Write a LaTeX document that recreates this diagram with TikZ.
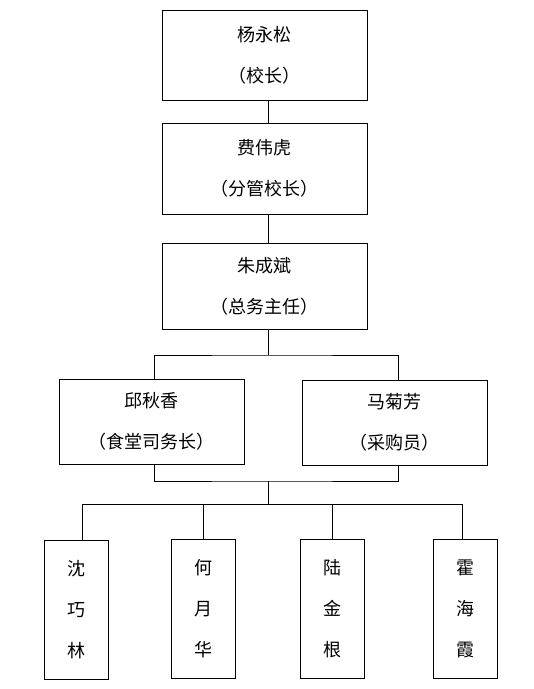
\documentclass[tikz,border=0pt]{standalone}
\usepackage{fontspec}
\newfontfamily\cjk{Noto Sans CJK SC}
\usetikzlibrary{calc,positioning}
\tikzset{
  pbox/.style={draw,line width=0.8pt,inner sep=0pt,align=center,font=\cjk\fontsize{18}{41}\selectfont,minimum width=#1},
  tall/.style={pbox=64pt,minimum height=139pt},
  link/.style={line width=0.8pt},
}
\begin{document}
\begin{tikzpicture}[x=1pt,y=-1pt]
\useasboundingbox[fill=white] (0,0) rectangle (534,689);
\node[pbox=205pt,minimum height=90pt] (yang) at (264.5,55)  {杨永松\\（校长）};
\node[pbox=205pt,minimum height=91pt] (fei)  at (264.5,168.5) {费伟虎\\（分管校长）};
\node[pbox=205pt,minimum height=86pt] (zhu)  at (264.5,286) {朱成斌\\（总务主任）};
\node[pbox=185pt,minimum height=85pt] (qiu)  at (151.5,421.5) {邱秋香\\（食堂司务长）};
\node[pbox=185pt,minimum height=85pt] (ma)   at (394.5,422.5) {马菊芳\\（采购员）};
\node[tall] (shen) at (76,609.5)  {沈\\巧\\林};
\node[tall] (he)   at (203.5,608.5) {何\\月\\华};
\node[tall] (lu)   at (332,608.5) {陆\\金\\根};
\node[tall] (huo)  at (465,608.5) {霍\\海\\霞};
% trunk
\draw[link] ([xshift=3.5pt]yang.south) -- ([xshift=3.5pt]fei.north);
\draw[link] ([xshift=3.5pt]fei.south) -- ([xshift=3.5pt]zhu.north);
\coordinate (up) at (268,355);
\coordinate (low) at (268,481);
\coordinate (bar) at (268,504);
\draw[link] ([xshift=3.5pt]zhu.south) -- (up);
\draw[link] ([xshift=2.5pt]qiu.north) |- (up) -| ([xshift=3.5pt]ma.north);
\draw[link] ([xshift=2.5pt]qiu.south) |- (low) -| ([xshift=3.5pt]ma.south);
\draw[link] (low) -- (bar);
% staff
\foreach \n/\x in {shen/82,he/203,lu/332,huo/462} {
  \coordinate (d\n) at (\x,504);
  \draw[link] (d\n) -- (d\n |- \n.north);
}
\draw[link] (dshen) -- (dhuo);
\end{tikzpicture}
\end{document}
